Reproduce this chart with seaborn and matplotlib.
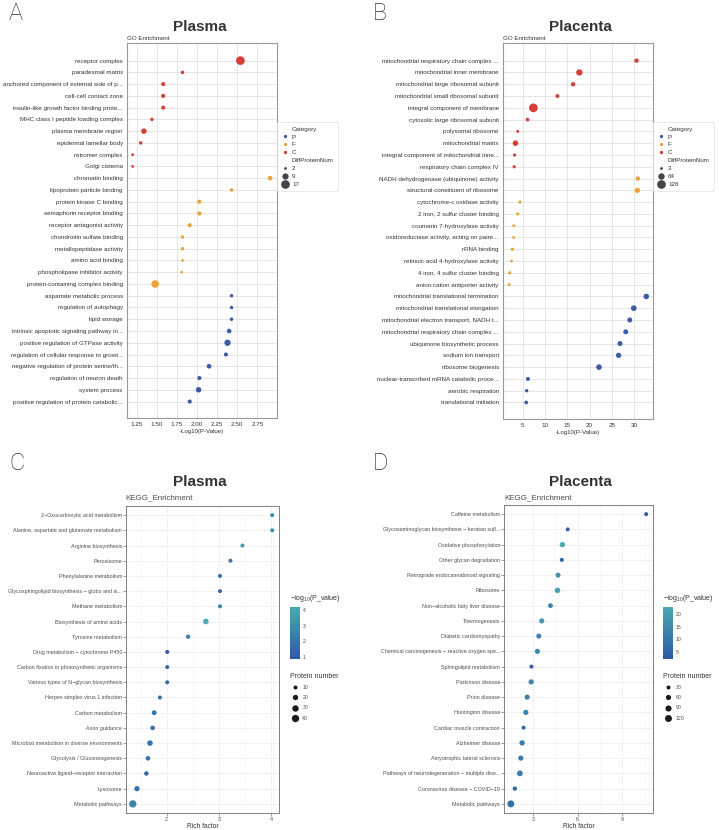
import numpy as np
import pandas as pd
import matplotlib
matplotlib.use("Agg")
import matplotlib.pyplot as plt
import seaborn as sns
from matplotlib.lines import Line2D
from matplotlib.colors import LinearSegmentedColormap, Normalize
from matplotlib.cm import ScalarMappable
from matplotlib.ticker import MultipleLocator, FormatStrFormatter

# ---- GO enrichment, plasma ----
go_plasma_terms = [
    "receptor complex", "paradesmal matrix", "anchored component of external side of p...",
    "cell-cell contact zone", "insulin-like growth factor binding prote...",
    "MHC class I peptide loading complex", "plasma membrane region", "epidermal lamellar body",
    "retromer complex", "Golgi cisterna",
    "chromatin binding", "lipoprotein particle binding", "protein kinase C binding",
    "semaphorin receptor binding", "receptor antagonist activity", "chondroitin sulfate binding",
    "metallopeptidase activity", "amino acid binding", "phospholipase inhibitor activity",
    "protein-containing complex binding",
    "aspartate metabolic process", "regulation of autophagy", "lipid storage",
    "intrinsic apoptotic signaling pathway in...", "positive regulation of GTPase activity",
    "regulation of cellular response to growt...", "negative regulation of protein serine/th...",
    "regulation of neuron death", "system process", "positive regulation of protein catabolic...",
]
go_plasma_cat = ["C"] * 10 + ["F"] * 10 + ["P"] * 10
go_plasma_logp = [2.54, 1.82, 1.58, 1.58, 1.58, 1.44, 1.34, 1.30, 1.20, 1.20,
                  2.91, 2.43, 2.03, 2.03, 1.91, 1.82, 1.82, 1.82, 1.81, 1.48,
                  2.43, 2.43, 2.43, 2.40, 2.38, 2.36, 2.15, 2.03, 2.02, 1.91]
go_plasma_num = [17, 3, 4, 4, 4, 3, 7, 3, 2, 2,
                 5, 3, 4, 4, 4, 3, 3, 2, 2, 13,
                 3, 3, 3, 5, 9, 4, 5, 4, 7, 4]
go_plasma_levels = [2, 9, 17]

# ---- GO enrichment, placenta ----
go_placenta_terms = [
    "mitochondrial respiratory chain complex ...", "mitochondrial inner membrane",
    "mitochondrial large ribosomal subunit", "mitochondrial small ribosomal subunit",
    "integral component of membrane", "cytosolic large ribosomal subunit", "polysomal ribosome",
    "mitochondrial matrix", "integral component of mitochondrial inne...",
    "respiratory chain complex IV",
    "NADH dehydrogenase (ubiquinone) activity", "structural constituent of ribosome",
    "cytochrome-c oxidase activity", "2 iron, 2 sulfur cluster binding",
    "coumarin 7-hydroxylase activity", "oxidoreductase activity, acting on paire...",
    "rRNA binding", "retinoic acid 4-hydroxylase activity", "4 iron, 4 sulfur cluster binding",
    "anion:cation antiporter activity",
    "mitochondrial translational termination", "mitochondrial translational elongation",
    "mitochondrial electron transport, NADH t...", "mitochondrial respiratory chain complex ...",
    "ubiquinone biosynthetic process", "sodium ion transport", "ribosome biogenesis",
    "nuclear-transcribed mRNA catabolic proce...", "aerobic respiration",
    "translational initiation",
]
go_placenta_cat = ["C"] * 10 + ["F"] * 10 + ["P"] * 10
go_placenta_logp = [30.5, 17.7, 16.3, 12.8, 7.4, 6.1, 3.9, 3.4, 3.2, 3.1,
                    30.8, 30.7, 4.4, 3.9, 3.0, 3.0, 2.7, 2.5, 2.1, 2.0,
                    32.7, 29.9, 29.0, 28.1, 26.8, 26.5, 22.1, 6.2, 5.9, 5.8]
go_placenta_num = [23, 62, 23, 18, 126, 14, 5, 45, 8, 8,
                   23, 40, 6, 8, 3, 3, 8, 3, 8, 5,
                   45, 47, 34, 34, 34, 40, 47, 18, 10, 14]
go_placenta_levels = [3, 64, 126]

# ---- KEGG enrichment, plasma ----
kegg_plasma_terms = [
    "2\u2212Oxocarboxylic acid metabolism", "Alanine, aspartate and glutamate metabolism",
    "Arginine biosynthesis", "Peroxisome", "Phenylalanine metabolism",
    "Glycosphingolipid biosynthesis \u2212 globo and is...", "Methane metabolism",
    "Biosynthesis of amino acids", "Tyrosine metabolism", "Drug metabolism \u2212 cytochrome P450",
    "Carbon fixation in photosynthetic organisms", "Various types of N\u2212glycan biosynthesis",
    "Herpes simplex virus 1 infection", "Carbon metabolism", "Axon guidance",
    "Microbial metabolism in diverse environments", "Glycolysis / Gluconeogenesis",
    "Neuroactive ligand\u2212receptor interaction", "Lysosome", "Metabolic pathways",
]
kegg_plasma_rich = [4.02, 4.02, 3.45, 3.22, 3.02, 3.02, 3.02, 2.75, 2.41, 2.01,
                    2.01, 2.01, 1.87, 1.76, 1.73, 1.68, 1.64, 1.61, 1.43, 1.35]
kegg_plasma_logp = [2.9, 2.9, 3.5, 2.1, 1.6, 1.6, 2.5, 4.21, 2.4, 0.87,
                    1.5, 1.5, 1.8, 2.0, 1.8, 2.0, 1.9, 1.5, 2.0, 2.6]
kegg_plasma_num = [5, 5, 8, 5, 2, 2, 10, 22, 12, 3,
                   8, 6, 10, 16, 14, 22, 14, 13, 20, 47]
kegg_plasma_levels = [10, 20, 30, 40]

# ---- KEGG enrichment, placenta ----
kegg_placenta_terms = [
    "Caffeine metabolism", "Glycosaminoglycan biosynthesis \u2212 keratan sulf...",
    "Oxidative phosphorylation", "Other glycan degradation",
    "Retrograde endocannabinoid signaling", "Ribosome", "Non\u2212alcoholic fatty liver disease",
    "Thermogenesis", "Diabetic cardiomyopathy",
    "Chemical carcinogenesis \u2212 reactive oxygen spe...", "Sphingolipid metabolism",
    "Parkinson disease", "Prion disease", "Huntington disease", "Cardiac muscle contraction",
    "Alzheimer disease", "Amyotrophic lateral sclerosis",
    "Pathways of neurodegeneration \u2212 multiple dise...", "Coronavirus disease \u2212 COVID\u221219",
    "Metabolic pathways",
]
kegg_placenta_rich = [10.61, 5.33, 4.97, 4.93, 4.68, 4.64, 4.17, 3.58, 3.38, 3.29,
                      2.89, 2.87, 2.60, 2.51, 2.36, 2.26, 2.17, 2.11, 1.77, 1.50]
kegg_placenta_logp = [2.1, 4.0, 22.9, 4.0, 16, 21, 13, 19, 13, 15,
                      3.0, 14, 12, 13, 4.5, 11, 10, 12, 6, 8]
kegg_placenta_num = [3, 4, 65, 8, 55, 70, 50, 60, 58, 60,
                     10, 62, 58, 62, 12, 65, 60, 80, 38, 160]
kegg_placenta_levels = [30, 60, 90, 120]

cat_order = ["P", "F", "C"]
cat_colors = {"P": "#3c5aa6", "F": "#eea236", "C": "#d43f3a"}
kegg_cmap = LinearSegmentedColormap.from_list("kegg", ["#2c5aa7", "#4aa9b0"])

W, H = 719, 830
sns.set_theme(style="whitegrid")
plt.rcParams["font.family"] = ["Liberation Sans", "DejaVu Sans"]
plt.rcParams["mathtext.fontset"] = "custom"
plt.rcParams["mathtext.rm"] = "Liberation Sans"
fig = plt.figure(figsize=(W / 100, H / 100), dpi=100)
fig.patch.set_facecolor("white")


def box(l, t, r, b):
    return [l / W, 1 - b / H, (r - l) / W, (b - t) / H]


def size_of(v, norm, rng):
    return rng[0] + (v - norm[0]) / (norm[1] - norm[0]) * (rng[1] - rng[0])


def go_panel(rect, terms, cats, logp, num, levels, xlim, xstep, xfmt, leg_xy):
    df = pd.DataFrame({"term": terms, "Category": cats, "logp": logp, "num": num})
    df["row"] = np.arange(len(df))
    norm = (min(num), max(num))
    rng = (4, 39)
    ax = fig.add_axes(rect)
    sns.scatterplot(data=df, x="logp", y="row", hue="Category", hue_order=cat_order,
                    palette=cat_colors, size="num", size_norm=norm, sizes=rng,
                    linewidth=0, legend=False, ax=ax, zorder=3)
    ax.set_yticks(df["row"], df["term"])
    ax.set_ylim(len(df) + 0.4, -1.5)
    ax.set_xlim(*xlim)
    ax.xaxis.set_major_locator(MultipleLocator(xstep))
    ax.xaxis.set_major_formatter(FormatStrFormatter(xfmt))
    ax.tick_params(labelsize=4.5, colors="#333333", length=0, pad=3)
    ax.grid(color="#e2e2e2", lw=0.6)
    for s in ax.spines.values():
        s.set_color("#999999")
        s.set_linewidth(0.8)
    ax.set_xlabel("-Log10(P-Value)", fontsize=4.4, labelpad=1.5, color="#333333")
    ax.set_ylabel("")

    handles = [Line2D([], [], ls="", marker="")]
    labels = ["Category"]
    for c in cat_order:
        handles.append(Line2D([], [], ls="", marker="o", ms=2.4, mew=0, color=cat_colors[c]))
        labels.append(c)
    handles.append(Line2D([], [], ls="", marker=""))
    labels.append("DiffProteinNum")
    for v in levels:
        handles.append(Line2D([], [], ls="", marker="o", mew=0, color="#444444",
                              ms=np.sqrt(size_of(v, norm, rng))))
        labels.append(str(v))
    leg = fig.legend(handles, labels, loc="upper left",
                     bbox_to_anchor=(leg_xy[0] / W, 1 - leg_xy[1] / H),
                     bbox_transform=fig.transFigure, fontsize=4.5, frameon=True,
                     handlelength=1.0, handletextpad=0.7, borderpad=0.7,
                     labelspacing=0.4, borderaxespad=0)
    leg.get_frame().set_edgecolor("#e0e0e0")
    leg.get_frame().set_linewidth(0.6)
    for t in leg.get_texts():
        t.set_color("#333333")
    return ax


def kegg_panel(rect, terms, rich, logp, num, levels, size_rng, xlim, major, minor,
               cb_rect, cb_step, leg_xy, title_xy):
    df = pd.DataFrame({"term": terms, "rich": rich, "logp": logp, "num": num})
    df["row"] = np.arange(len(df))
    hnorm = Normalize(min(logp), max(logp))
    snorm = (levels[0], levels[-1])
    ax = fig.add_axes(rect)
    sns.scatterplot(data=df, x="rich", y="row", hue="logp", palette=kegg_cmap,
                    hue_norm=hnorm, size="num", size_norm=snorm, sizes=size_rng,
                    linewidth=0, legend=False, ax=ax, zorder=3)
    ax.set_yticks(df["row"], df["term"])
    ax.set_ylim(len(df) - 0.4, -0.6)
    ax.set_xlim(*xlim)
    ax.xaxis.set_major_locator(MultipleLocator(major))
    ax.xaxis.set_minor_locator(MultipleLocator(minor))
    ax.grid(which="major", color="#ececf2", lw=0.5)
    ax.grid(which="minor", axis="x", color="#f3f3f7", lw=0.4)
    ax.tick_params(axis="both", which="major", bottom=True, left=True, length=2,
                   width=0.4, color="#555555", labelsize=3.9, labelcolor="#4d4d4d", pad=0.8)
    ax.tick_params(which="minor", bottom=False, left=False)
    for s in ax.spines.values():
        s.set_color("#808080")
        s.set_linewidth(0.7)
    ax.set_xlabel("Rich factor", fontsize=4.8, labelpad=0, color="#333333")
    ax.set_ylabel("")

    cax = fig.add_axes(cb_rect)
    cb = fig.colorbar(ScalarMappable(norm=hnorm, cmap=kegg_cmap), cax=cax)
    cb.outline.set_visible(False)
    cax.yaxis.set_major_locator(MultipleLocator(cb_step))
    cax.tick_params(length=2, width=0.5, color="white", direction="in", left=True,
                    right=True, labelleft=False, labelsize=3.7, labelcolor="#4d4d4d", pad=2)
    cax.grid(False)
    fig.text(title_xy[0] / W, 1 - title_xy[1] / H, "\u2212log$_{10}$(P_value)",
             fontsize=5, color="#333333", ha="left", va="center")

    handles = [Line2D([], [], ls="", marker="o", mew=0, color="#1a1a1a",
                      ms=np.sqrt(size_of(v, snorm, size_rng))) for v in levels]
    leg = fig.legend(handles, [str(v) for v in levels], title="Protein number",
                     loc="upper left", bbox_to_anchor=(leg_xy[0] / W, 1 - leg_xy[1] / H),
                     bbox_transform=fig.transFigure, frameon=False, fontsize=3.7,
                     title_fontsize=5, handlelength=2.0, handletextpad=0.4,
                     labelspacing=1.0, alignment="left", borderaxespad=0, borderpad=0)
    for t in leg.get_texts():
        t.set_color("#4d4d4d")
    leg.get_title().set_color("#333333")
    return ax


go_panel(box(127, 43, 277, 418), go_plasma_terms, go_plasma_cat, go_plasma_logp,
         go_plasma_num, go_plasma_levels, (1.13, 2.995), 0.25, "%.2f", (277, 122))
go_panel(box(503, 43, 653, 419), go_placenta_terms, go_placenta_cat, go_placenta_logp,
         go_placenta_num, go_placenta_levels, (0.6, 34.2), 5, "%d", (653, 122))

kegg_panel(box(126, 506, 279, 813), kegg_plasma_terms, kegg_plasma_rich, kegg_plasma_logp,
           kegg_plasma_num, kegg_plasma_levels, (8.3, 27.7), (1.22, 4.15), 1, 0.5,
           box(290, 607, 300, 659), 1, (290, 673), (290, 598))
kegg_panel(box(504, 505, 653, 813), kegg_placenta_terms, kegg_placenta_rich,
           kegg_placenta_logp, kegg_placenta_num, kegg_placenta_levels, (8.3, 25.0),
           (1.04, 11.07), 3, 1.5, box(663, 607, 673, 659), 5, (663, 673), (663, 598))

# titles, subtitles and panel letters
for x, y, s in [(200, 27, "Plasma"), (580, 27, "Placenta"),
                (200, 482, "Plasma"), (580, 482, "Placenta")]:
    fig.text(x / W, 1 - y / H, s, fontsize=11, fontweight="bold", color="#333333",
             ha="center", va="center")
for x, y, s in [(127, 38, "GO Enrichment"), (503, 38, "GO Enrichment")]:
    fig.text(x / W, 1 - y / H, s, fontsize=4.5, color="#333333", ha="left", va="center")
for x, y, s in [(125, 498, "KEGG_Enrichment"), (504, 498, "KEGG_Enrichment")]:
    fig.text(x / W, 1 - y / H, s, fontsize=5.8, color="#4d4d4d", ha="left", va="center")
for x, y, s in [(9, 13, "A"), (373, 13, "B"), (9, 463, "C"), (373, 463, "D")]:
    fig.text(x / W, 1 - y / H, s, fontsize=17, color="#333333", ha="left", va="center",
             family=["Roboto", "DejaVu Sans"], fontweight="light")

fig.savefig("out.png", dpi=100, facecolor="white")
